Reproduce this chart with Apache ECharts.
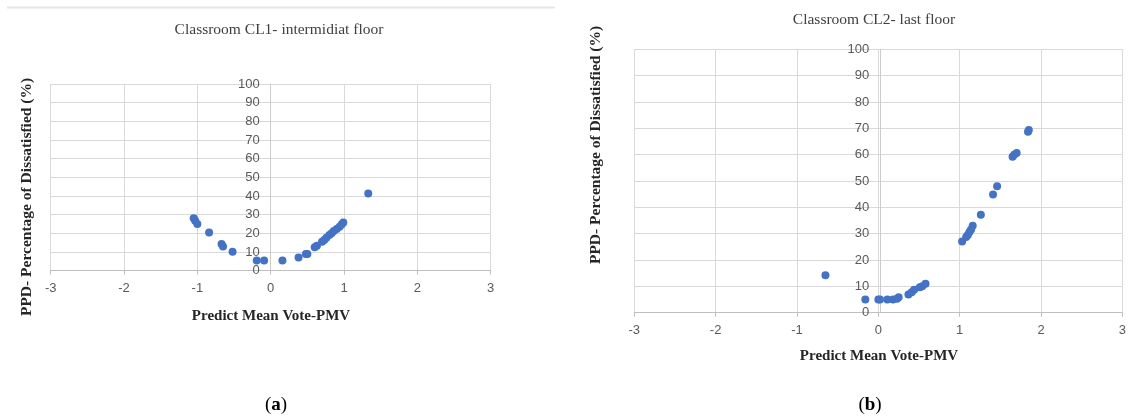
<!DOCTYPE html>
<html>
<head>
<meta charset="utf-8">
<style>
  html, body { margin: 0; padding: 0; background: #ffffff; }
  #chart { width: 1129px; height: 419px; }
</style>
<script src="https://cdn.jsdelivr.net/npm/echarts@6/dist/echarts.min.js"></script>
</head>
<body>
<div id="chart"></div>
<script>
// Classroom CL1 (intermediate floor): predicted mean vote and percentage dissatisfied
const pmvCL1 = [-1.05, -1.03, -1.00, -0.84, -0.67, -0.65, -0.52, -0.19, -0.09, 0.16, 0.38, 0.48, 0.50,
                0.60, 0.63, 0.70, 0.73, 0.76, 0.80, 0.83, 0.86, 0.90, 0.94, 0.97, 0.99, 1.33];
const ppdCL1 = [28.1, 26.8, 25.0, 20.5, 14.3, 12.9, 10.2, 5.4, 5.4, 5.4, 7.1, 8.9, 8.9,
                12.5, 13.4, 15.5, 16.4, 17.6, 19.1, 20.0, 21.2, 22.3, 23.6, 24.9, 25.8, 41.4];

// Classroom CL2 (last floor)
const pmvCL2 = [-0.65, -0.16, 0.00, 0.02, 0.11, 0.18, 0.23, 0.25, 0.37, 0.41, 0.44, 0.51, 0.54, 0.58,
                1.03, 1.08, 1.10, 1.12, 1.14, 1.16, 1.26, 1.41, 1.46, 1.65, 1.67, 1.70, 1.84, 1.85];
const ppdCL2 = [14.2, 5.0, 5.0, 5.0, 5.0, 5.0, 5.3, 5.9, 6.9, 7.8, 8.7, 9.7, 10.0, 11.0,
                27.0, 28.7, 29.5, 30.6, 31.6, 33.0, 37.2, 44.9, 48.0, 59.2, 60.0, 60.6, 68.7, 69.4];

// Axis ticks
const pmvTicks = [-3, -2, -1, 0, 1, 2, 3];
const ppdTicks = [0, 10, 20, 30, 40, 50, 60, 70, 80, 90, 100];

const chartTitles = ['Classroom CL1- intermidiat floor', 'Classroom CL2- last floor'];
const xTitle = 'Predict Mean Vote-PMV';
const yTitle = 'PPD- Percentage of Dissatisfied (%)';
const panelTags = ['a', 'b'];

const pairs = (xs, ys) => xs.map((x, i) => [x, ys[i]]);

const GRID_LINE = '#d9d9d9';
const LABEL = '#595959';
const SERIF = '"Liberation Serif", "DejaVu Serif", serif';
const SANS = '"Liberation Sans", Arial, sans-serif';

const grids = [
  { left: 50.7, top: 84, width: 440, height: 186.7 },
  { left: 634.3, top: 49.3, width: 491.7, height: 263.4 }
];

function xAxisFor(gridIndex) {
  return {
    type: 'value', gridIndex,
    min: pmvTicks[0], max: pmvTicks[pmvTicks.length - 1], interval: 1,
    // the PPD axis starts at 0, so the bottom edge is the zero line
    axisLine: { show: true, onZero: false, lineStyle: { color: '#bfbfbf', width: 1 } },
    axisTick: { show: true, length: 4, lineStyle: { color: '#bfbfbf' } },
    axisLabel: { color: LABEL, fontFamily: SANS, fontSize: 13, margin: 11 },
    splitLine: { show: true, lineStyle: { color: GRID_LINE, width: 1 } }
  };
}
function yAxisFor(gridIndex) {
  // shift the vertical axis from the left edge to where PMV = 0
  const lo = pmvTicks[0], hi = pmvTicks[pmvTicks.length - 1];
  const shift = grids[gridIndex].width * (0 - lo) / (hi - lo);
  return {
    type: 'value', gridIndex, position: 'left', offset: -shift,
    min: ppdTicks[0], max: ppdTicks[ppdTicks.length - 1], interval: 10,
    axisLine: { show: true, onZero: false, lineStyle: { color: '#cccccc', width: 1 } },
    axisTick: { show: false },
    axisLabel: { color: LABEL, fontFamily: SANS, fontSize: 13, margin: 11 },
    splitLine: { show: true, lineStyle: { color: GRID_LINE, width: 1 } }
  };
}

function text(str, x, y, font, fill, rotate) {
  return {
    type: 'text', x, y, rotation: rotate ? Math.PI / 2 : 0, silent: true,
    style: { text: str, font, fill, align: 'center', verticalAlign: 'middle',
             textAlign: 'center', textVerticalAlign: 'middle' }
  };
}
function tag(letter, x, y) {
  return {
    type: 'text', x, y, silent: true,
    style: {
      text: '{p|(}{b|' + letter + '}{p|)}',
      align: 'center', verticalAlign: 'middle',
      rich: {
        p: { fontFamily: SERIF, fontSize: 19, fill: '#000', color: '#000' },
        b: { fontFamily: SERIF, fontSize: 19, fontWeight: 'bold', fill: '#000', color: '#000' }
      }
    }
  };
}

const chart = echarts.init(document.getElementById('chart'), null, { renderer: 'canvas' });
chart.setOption({
  animation: false,
  backgroundColor: '#ffffff',
  grid: grids,
  xAxis: [xAxisFor(0), xAxisFor(1)],
  yAxis: [yAxisFor(0), yAxisFor(1)],
  series: [
    { type: 'scatter', xAxisIndex: 0, yAxisIndex: 0, data: pairs(pmvCL1, ppdCL1),
      symbol: 'circle', symbolSize: 8, itemStyle: { color: '#4472C4', opacity: 1 } },
    { type: 'scatter', xAxisIndex: 1, yAxisIndex: 1, data: pairs(pmvCL2, ppdCL2),
      symbol: 'circle', symbolSize: 8, itemStyle: { color: '#4472C4', opacity: 1 } }
  ],
  graphic: [
    { type: 'line', silent: true, shape: { x1: 7, y1: 7.5, x2: 555, y2: 7.5 },
      style: { stroke: '#e6e6e6', lineWidth: 2 } },
    text(chartTitles[0], 279, 30, '15.5px ' + SERIF, '#404040'),
    text(chartTitles[1], 874, 19.5, '15.5px ' + SERIF, '#404040'),
    text(yTitle, 27, 197, 'bold 15.5px ' + SERIF, '#262626', true),
    text(yTitle, 596, 145, 'bold 15.5px ' + SERIF, '#262626', true),
    text(xTitle, 271, 316, 'bold 15px ' + SERIF, '#262626'),
    text(xTitle, 879, 356.5, 'bold 15px ' + SERIF, '#262626'),
    tag(panelTags[0], 276, 405),
    tag(panelTags[1], 870, 405)
  ]
});
</script>
</body>
</html>
